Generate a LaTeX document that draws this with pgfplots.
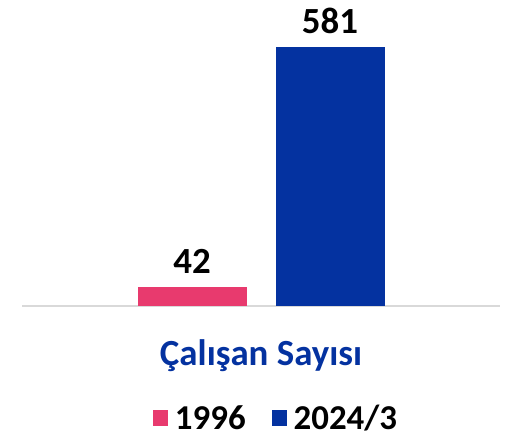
\documentclass[border=0pt]{standalone}
\usepackage{pgfplots}
\pgfplotsset{compat=1.18}
\usepackage{fontspec}
\setmainfont{Carlito}
\definecolor{pinkbar}{HTML}{E83A6E}
\definecolor{bluebar}{HTML}{0432A0}
\definecolor{axgrey}{HTML}{D9D9D9}
\begin{document}
\begin{tikzpicture}[x=1bp,y=1bp]
\useasboundingbox (0,0) rectangle (519,439);
\begin{axis}[
  at={(22bp,133bp)}, anchor=south west,
  scale only axis,
  width=478bp, height=306bp,
  ybar, bar width=109bp,
  xmin=-1, xmax=1, ymin=0, ymax=686,
  xtick={0}, xticklabels={Çalışan Sayısı},
  xticklabel style={font=\fontsize{37}{42}\selectfont\bfseries, text=bluebar, yshift=-30bp},
  major tick length=0pt,
  ytick=\empty,
  axis y line=none,
  axis x line*=bottom,
  x axis line style={draw=axgrey, line width=1.5bp, -},
  /pgf/number format/assume math mode=true,
  nodes near coords,
  nodes near coords style={font=\fontsize{37}{42}\selectfont\bfseries, text=black, yshift=10bp},
  legend style={at={(0.5,0)}, anchor=center, xshift=15bp, yshift=-112bp, draw=none, fill=none,
    font=\fontsize{35}{40}\selectfont\bfseries, legend columns=2,
    /tikz/every odd column/.append style={column sep=5bp},
    /tikz/every even column/.append style={column sep=24bp}},
  legend image code/.code={\fill[#1] (0bp,-8bp) rectangle (15bp,8bp);},
]
\addplot[fill=pinkbar, draw=none, bar shift=-69bp] coordinates {(0,42)};
\addplot[fill=bluebar, draw=none, bar shift=69bp] coordinates {(0,581)};
\legend{1996, 2024/3}
\end{axis}
\end{tikzpicture}
\end{document}
